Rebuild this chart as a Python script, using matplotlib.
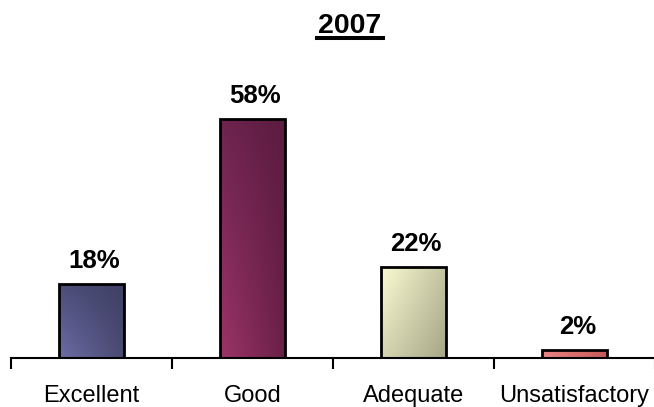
import numpy as np
import matplotlib
matplotlib.use("Agg")
import matplotlib.pyplot as plt
import matplotlib.colors as mcolors

categories = ["Excellent", "Good", "Adequate", "Unsatisfactory"]
values = [18, 58, 22, 2]
labels = ["18%", "58%", "22%", "2%"]
title = "2007"
# gradient corner colors: (top-left, top-right, bottom-left, bottom-right)
grad_colors = [
    ("#4c4d78", "#3e4064", "#6c6ca6", "#4a4a72"),
    ("#6e2450", "#5c1c40", "#9c3468", "#6a2048"),
    ("#fbfbd2", "#c4c4a2", "#d4d4b0", "#a8a888"),
    ("#e88080", "#c85858", "#e88888", "#c85a5a"),
]

plt.rcParams["font.family"] = ["Liberation Sans", "DejaVu Sans"]

fig = plt.figure(figsize=(6.54, 4.07), dpi=100)
W, H = 654, 407
ax = fig.add_axes([11 / W, 49 / H, 644 / W, 290 / H])
x = np.arange(len(categories))
bars = ax.bar(x, values, width=0.4, facecolor="none", edgecolor="black",
              linewidth=2, zorder=3)

for b, cols in zip(bars, grad_colors):
    c = [np.array(mcolors.to_rgb(cc)) for cc in cols]
    n = 50
    u = np.linspace(0, 1, n)[None, :, None]
    v = np.linspace(0, 1, n)[:, None, None]
    img = (c[0] * (1 - u) * (1 - v) + c[1] * u * (1 - v)
           + c[2] * (1 - u) * v + c[3] * u * v)
    x0, y0 = b.get_x(), b.get_y()
    w, h = b.get_width(), b.get_height()
    im = ax.imshow(img, extent=[x0, x0 + w, y0, y0 + h], origin="upper",
                   aspect="auto", zorder=2, interpolation="bilinear")
    im.set_clip_path(b)

for b, lab in zip(bars, labels):
    ax.annotate(lab, (b.get_x() + b.get_width() / 2, b.get_height()),
                xytext=(2, 11.5), textcoords="offset points",
                ha="center", va="baseline", fontsize=18.5, fontweight="bold")

ax.set_xlim(-0.5, 3.5)
ax.set_ylim(0, 70.4)
for s in ["top", "right", "left"]:
    ax.spines[s].set_visible(False)
ax.spines["bottom"].set_linewidth(1.5)
ax.set_yticks([])
ax.set_xticks(np.arange(-0.5, 4.0, 1.0), minor=False)
ax.set_xticklabels([])
ax.tick_params(axis="x", which="major", length=8, width=1.5, direction="out")
ax.set_xticks(x, minor=True)
ax.set_xticklabels(categories, minor=True, fontsize=17)
ax.tick_params(axis="x", which="minor", length=0, pad=19.5)

fig.text(350 / W, 1 - 33 / H, title, ha="center", va="baseline",
         fontsize=20.5, fontweight="bold")
fig.add_artist(plt.Line2D([317 / W, 383 / W], [1 - 38 / H, 1 - 38 / H],
                          color="black", linewidth=2.9))

fig.savefig("out.png", dpi=100)
